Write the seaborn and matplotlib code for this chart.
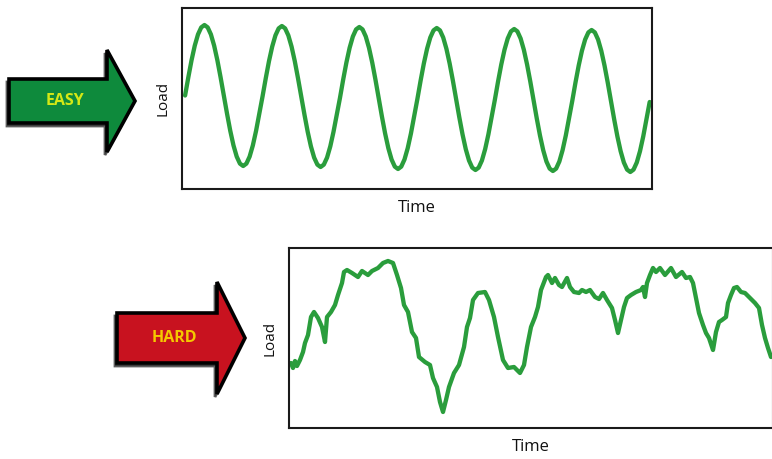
import matplotlib
matplotlib.use("Agg")
import matplotlib.pyplot as plt
import seaborn as sns
import pandas as pd
from matplotlib.patches import Polygon

sns.set_style("white")
plt.rcParams['font.family'] = ['Open Sans', 'DejaVu Sans']

# ---------------- data ----------------
# EASY: regular load cycle (time in cycles, load in arbitrary units)
easy_time = [i / 24 for i in range(145)]
easy_load = [
    93.5, 111.7, 128.8, 143.4, 154.6, 161.6, 164, 161.6, 154.6, 143.4, 128.8, 111.7,
    93.5, 75.3, 58.2, 43.6, 32.4, 25.4, 23, 25.4, 32.4, 43.6, 58.2, 75.3,
    92.5, 110.7, 127.8, 142.4, 153.6, 160.6, 163, 160.6, 153.6, 142.4, 127.8, 110.7,
    92.5, 74.3, 57.2, 42.6, 31.4, 24.4, 22, 24.4, 31.4, 42.6, 57.2, 74.3,
    91, 109.4, 126.5, 141.2, 152.5, 159.6, 162, 159.6, 152.5, 141.2, 126.5, 109.4,
    91, 72.6, 55.5, 40.8, 29.5, 22.4, 20, 22.4, 29.5, 40.8, 55.5, 72.6,
    90, 108.4, 125.5, 140.2, 151.5, 158.6, 161, 158.6, 151.5, 140.2, 125.5, 108.4,
    90, 71.6, 54.5, 39.8, 28.5, 21.4, 19, 21.4, 28.5, 39.8, 54.5, 71.6,
    89, 107.4, 124.5, 139.2, 150.5, 157.6, 160, 157.6, 150.5, 139.2, 124.5, 107.4,
    89, 70.6, 53.5, 38.8, 27.5, 20.4, 18, 20.4, 27.5, 38.8, 53.5, 70.6,
    88, 106.4, 123.5, 138.2, 149.5, 156.6, 159, 156.6, 149.5, 138.2, 123.5, 106.4,
    88, 69.6, 52.5, 37.8, 26.5, 19.4, 17, 19.4, 26.5, 37.8, 52.5, 69.6,
    87,
]

# HARD: irregular load history
hard_time = [
    2, 4, 6, 8, 11, 14, 16, 19, 22, 25,
    29, 33, 36, 38, 42, 46, 49, 53, 55, 58,
    63, 69, 73, 79, 83, 89, 94, 99, 104, 108,
    112, 115, 119, 123, 127, 130, 136, 141, 144, 148,
    151, 154, 157, 160, 165, 170, 175, 178, 181, 184,
    189, 196, 200, 205, 209, 214, 219, 225, 231, 235,
    238, 242, 246, 249, 252, 257, 259, 263, 266, 270,
    273, 278, 281, 285, 290, 293, 297, 301, 306, 310,
    314, 318, 323, 326, 329, 332, 335, 338, 342, 347,
    352, 354, 356, 358, 361, 364, 367, 371, 376, 382,
    387, 393, 397, 401, 404, 407, 410, 414, 417, 420,
    424, 427, 430, 433, 437, 439, 442, 445, 448, 452,
    456, 461, 466, 470, 473, 476, 479, 482,
]
hard_load = [
    65, 60, 67, 62, 68, 76, 85, 93, 111, 116,
    110, 101, 86, 111, 116, 123, 133, 145, 156, 158,
    155, 151, 157, 153, 157, 160, 165, 167, 165, 153,
    140, 123, 116, 96, 90, 71, 66, 63, 50, 41,
    26, 16, 28, 41, 55, 63, 81, 101, 110, 128,
    135, 136, 128, 111, 91, 68, 60, 61, 55, 63,
    81, 101, 111, 121, 138, 151, 153, 145, 150, 143,
    141, 150, 141, 136, 135, 138, 136, 138, 131, 129,
    135, 128, 120, 108, 95, 108, 121, 130, 133, 136,
    138, 141, 131, 145, 153, 160, 156, 160, 153, 160,
    151, 156, 150, 151, 145, 130, 115, 103, 95, 90,
    78, 96, 106, 108, 111, 125, 133, 140, 141, 136,
    135, 130, 125, 120, 103, 90, 80, 71,
]

x_label = "Time"
y_label = "Load"
arrow_labels = ["EASY", "HARD"]

easy_df = pd.DataFrame({"time": easy_time, "load": easy_load})
hard_df = pd.DataFrame({"time": hard_time, "load": hard_load})

# ---------------- figure ----------------
W, H = 772, 459
fig = plt.figure(figsize=(W / 100, H / 100), dpi=100)
fig.patch.set_facecolor("white")

LINE = "#2a9d3c"

def px_axes(l, t, r, b):
    return fig.add_axes([l / W, 1 - b / H, (r - l) / W, (b - t) / H])

ax1 = px_axes(182, 8, 652, 189)
sns.lineplot(data=easy_df, x="time", y="load", ax=ax1, color=LINE,
             linewidth=3.1, estimator=None, sort=False)
ax1.set_xlim(-0.04, 6.03)
ax1.set_ylim(0, 181)

ax2 = px_axes(289, 248, 773, 428)
sns.lineplot(data=hard_df, x="time", y="load", ax=ax2, color=LINE,
             linewidth=3.1, estimator=None, sort=False)
ax2.set_xlim(0, 484)
ax2.set_ylim(0, 180)

for ax in (ax1, ax2):
    ax.set_xticks([])
    ax.set_yticks([])
    for s in ax.spines.values():
        s.set_visible(True)
        s.set_color("#1a1a1a")
        s.set_linewidth(1.5)
    ax.set_xlabel(x_label, fontsize=12, labelpad=8, color="#111111")
    ax.set_ylabel(y_label, fontsize=11, labelpad=8, color="#111111")

# ---------------- arrows ----------------
ov = fig.add_axes([0, 0, 1, 1], zorder=-1)
ov.set_xlim(0, W)
ov.set_ylim(H, 0)
ov.axis("off")

def block_arrow(x0, xb, xt, ym, half_body, half_head, fill, text, tcolor):
    pts = [(x0, ym - half_body), (xb, ym - half_body), (xb, ym - half_head),
           (xt, ym), (xb, ym + half_head), (xb, ym + half_body),
           (x0, ym + half_body)]
    shadow = [(x - 2, y + 3) for x, y in pts]
    ov.add_patch(Polygon(shadow, closed=True, facecolor="#333333",
                         edgecolor="#333333", linewidth=2, alpha=0.8))
    ov.add_patch(Polygon(pts, closed=True, facecolor=fill,
                         edgecolor="black", linewidth=2.6, joinstyle="miter"))
    ov.text((x0 + xb) / 2 + 7, ym, text, ha="center", va="center",
            fontsize=11.5, fontweight="bold", color=tcolor,
            family=["Open Sans", "DejaVu Sans"])

block_arrow(9, 107, 135, 101, 22, 51, "#0e8a3c", arrow_labels[0], "#d4e815")
block_arrow(117, 217, 245, 338, 25, 56, "#c8121f", arrow_labels[1], "#f5c800")

fig.savefig("out.png", dpi=100, facecolor="white")
